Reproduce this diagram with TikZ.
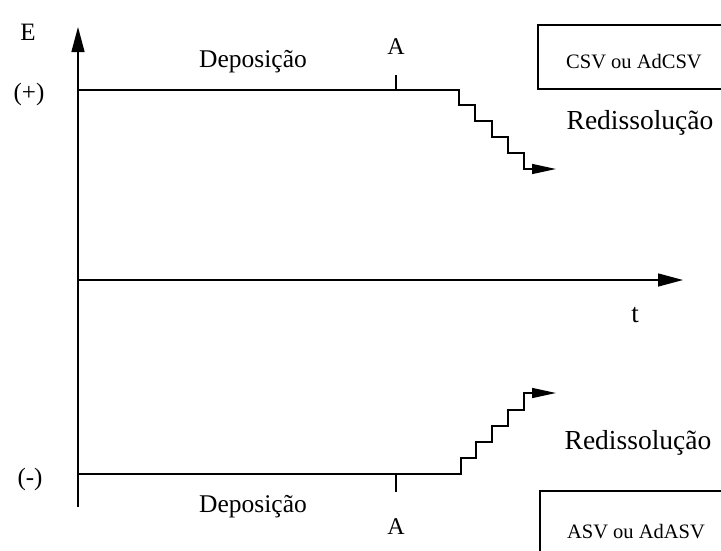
\documentclass[tikz,border=0pt]{standalone}
\usepackage{fontspec}
\setmainfont{Liberation Serif}
\usetikzlibrary{arrows.meta}
\begin{document}
\begin{tikzpicture}[x=1pt,y=-1pt,
  axis/.style={line width=1.4pt,line cap=butt},
  bigarrow/.style={-{Triangle[length=25pt,width=13pt]}},
  smallarrow/.style={-{Triangle[length=24pt,width=10pt]}},
  lbl/.style={inner sep=0pt,font=\fontsize{25}{29}\selectfont},
  dep/.style={inner sep=0pt,font=\fontsize{25.5}{30}\selectfont},
  redis/.style={inner sep=0pt,font=\fontsize{27.5}{32}\selectfont},
  boxtxt/.style={inner sep=0pt,font=\fontsize{20.5}{24}\selectfont},
  ticklbl/.style={inner sep=0pt,font=\fontsize{24}{28}\selectfont}]
\useasboundingbox (0,0) rectangle (721,550);
\clip (0,0) rectangle (721,550);
% coordinates
\coordinate (vbot) at (78,507);
\coordinate (vtop) at (78,27);
\coordinate (hO) at (78,280);
\coordinate (hend) at (683,280);
\coordinate (pstart) at (78,90);
\coordinate (mstart) at (78,474);
\coordinate (tickT1) at (396,75);
\coordinate (tickT2) at (396,90);
\coordinate (tickB1) at (396,474);
\coordinate (tickB2) at (396,492);
\coordinate (pend) at (556,169);
\coordinate (mend) at (556,393);
% axes
\draw[axis,bigarrow] (vbot) -- (vtop);
\draw[axis,bigarrow] (hO) -- (hend);
% top potential (+) with staircase
\draw[axis,smallarrow] (pstart) -- (459,90) -- (459,105) -- (475,105) -- (475,121)
  -- (492,121) -- (492,137) -- (508,137) -- (508,153) -- (524,153) -- (524,169) -- (pend);
% bottom potential (-) with staircase
\draw[axis,smallarrow] (mstart) -- (461,474) -- (461,458) -- (476,458) -- (476,442)
  -- (492,442) -- (492,426) -- (508,426) -- (508,410) -- (524,410) -- (524,393) -- (mend);
% ticks
\draw[axis] (tickT1) -- (tickT2);
\draw[axis] (tickB1) -- (tickB2);
% boxes
\draw[axis] (725,25) -- (538,25) -- (538,89) -- (725,89);
\draw[axis] (725,491) -- (540,491) -- (540,555);
% labels
\node[lbl] (E) at (28,32) {E};
\node[lbl] (plus) at (29,94) {(+)};
\node[lbl] (minus) at (30,479) {(-)};
\node[lbl,font=\fontsize{27}{31}\selectfont] (t) at (635,315) {t};
\node[dep] (depT) at (253,62) {Deposição};
\node[dep] (depB) at (253,507) {Deposição};
\node[ticklbl] (AT) at (396,47) {A};
\node[ticklbl] (AB) at (396,527) {A};
\node[redis] (redT) at (640,123) {Redissolução};
\node[redis] (redB) at (638,443) {Redissolução};
\node[boxtxt] (csv) at (634,62) {CSV ou AdCSV};
\node[boxtxt] (asv) at (636,532) {ASV ou AdASV};
\end{tikzpicture}
\end{document}
